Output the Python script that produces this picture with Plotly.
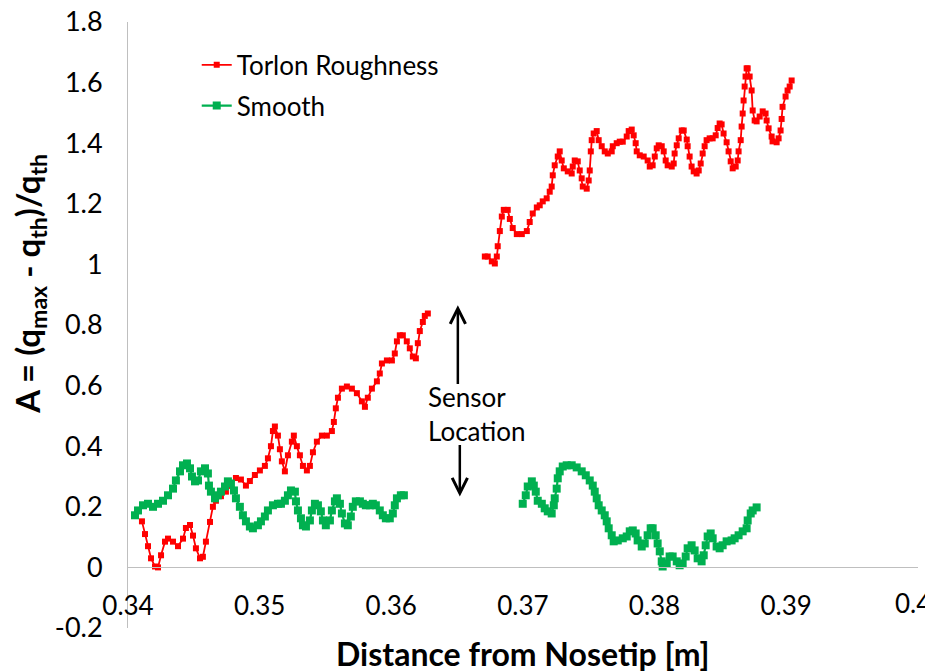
import plotly.graph_objects as go

# ---------------- data (x = distance from nosetip [m], y = A) ----------------
torlon_seg1 = [
    (0.34106, 0.152), (0.34129, 0.11), (0.34152, 0.07), (0.34175, 0.03), (0.34205, 0.003),
    (0.34228, 0.0), (0.34251, 0.04), (0.34281, 0.085), (0.34304, 0.095), (0.34342, 0.085),
    (0.3438, 0.07), (0.34418, 0.095), (0.3444, 0.13), (0.34471, 0.14), (0.34494, 0.105),
    (0.34516, 0.063), (0.34547, 0.03), (0.34569, 0.035), (0.34592, 0.085), (0.34623, 0.15),
    (0.34645, 0.2), (0.34668, 0.22), (0.34706, 0.235), (0.34744, 0.25), (0.34782, 0.27),
    (0.3482, 0.295), (0.34858, 0.29), (0.34896, 0.27), (0.34926, 0.285), (0.34964, 0.305),
    (0.35002, 0.32), (0.3504, 0.335), (0.35063, 0.36), (0.35086, 0.40), (0.35101, 0.45),
    (0.35116, 0.465), (0.35139, 0.435), (0.35154, 0.39), (0.35169, 0.35), (0.35192, 0.317),
    (0.35215, 0.37), (0.35245, 0.415), (0.3526, 0.435), (0.35283, 0.40), (0.35306, 0.37),
    (0.35329, 0.335), (0.35359, 0.32), (0.35382, 0.335), (0.35405, 0.38), (0.35435, 0.415),
    (0.35473, 0.435), (0.35511, 0.435), (0.35549, 0.45), (0.35564, 0.48), (0.35579, 0.525),
    (0.35595, 0.56), (0.35625, 0.59), (0.35663, 0.597), (0.35701, 0.59), (0.35739, 0.575),
    (0.35777, 0.548), (0.358, 0.53), (0.35822, 0.56), (0.35853, 0.59), (0.35891, 0.614),
    (0.35913, 0.64), (0.35929, 0.673), (0.35967, 0.683), (0.36005, 0.683), (0.36027, 0.706),
    (0.36043, 0.746), (0.36065, 0.766), (0.36088, 0.766), (0.36118, 0.746), (0.36141, 0.723),
    (0.36164, 0.696), (0.36187, 0.69), (0.36202, 0.74), (0.36217, 0.78), (0.3624, 0.81),
    (0.36255, 0.83), (0.36278, 0.838),
]

torlon_seg2 = [
    (0.36711, 1.026), (0.36733, 1.026), (0.36764, 1.01), (0.36787, 1.003), (0.36802, 1.026),
    (0.36809, 1.06), (0.36825, 1.11), (0.3684, 1.158), (0.36855, 1.18), (0.36885, 1.18),
    (0.36901, 1.15), (0.36923, 1.12), (0.36954, 1.10), (0.36992, 1.10), (0.3703, 1.11),
    (0.37052, 1.14), (0.37075, 1.168), (0.37106, 1.188), (0.37128, 1.195), (0.37151, 1.208),
    (0.37181, 1.218), (0.37204, 1.24), (0.37219, 1.257), (0.37227, 1.294), (0.37242, 1.327),
    (0.37265, 1.356), (0.3728, 1.373), (0.37295, 1.343), (0.37311, 1.317), (0.37341, 1.307),
    (0.37371, 1.30), (0.37379, 1.323), (0.37394, 1.343), (0.37417, 1.34), (0.37432, 1.31),
    (0.37447, 1.284), (0.37455, 1.257), (0.37485, 1.25), (0.375, 1.277), (0.37508, 1.31),
    (0.37516, 1.373), (0.37523, 1.41), (0.37538, 1.432), (0.37561, 1.44), (0.37576, 1.41),
    (0.37599, 1.39), (0.37622, 1.373), (0.37645, 1.366), (0.37675, 1.373), (0.37683, 1.39),
    (0.37713, 1.40), (0.37736, 1.405), (0.37759, 1.405), (0.37789, 1.422), (0.37804, 1.44),
    (0.37827, 1.445), (0.37842, 1.426), (0.37857, 1.40), (0.37865, 1.373), (0.37888, 1.36),
    (0.37918, 1.356), (0.37948, 1.343), (0.37964, 1.323), (0.37986, 1.327), (0.38002, 1.356),
    (0.38017, 1.383), (0.38032, 1.393), (0.38055, 1.39), (0.3807, 1.373), (0.38085, 1.343),
    (0.381, 1.327), (0.38131, 1.323), (0.38146, 1.333), (0.38153, 1.366), (0.38169, 1.393),
    (0.38184, 1.416), (0.38207, 1.442), (0.38222, 1.442), (0.38245, 1.412), (0.38252, 1.39),
    (0.38267, 1.356), (0.38282, 1.323), (0.38298, 1.307), (0.3832, 1.30), (0.38336, 1.31),
    (0.38351, 1.333), (0.38366, 1.366), (0.38381, 1.39), (0.38396, 1.41), (0.38419, 1.416),
    (0.38442, 1.416), (0.38465, 1.426), (0.3848, 1.45), (0.38495, 1.465), (0.3851, 1.462),
    (0.38525, 1.432), (0.38548, 1.403), (0.38563, 1.373), (0.38579, 1.34), (0.38594, 1.317),
    (0.38617, 1.323), (0.38632, 1.343), (0.38639, 1.373), (0.38655, 1.41), (0.38662, 1.455),
    (0.3867, 1.498), (0.38677, 1.541), (0.38685, 1.587), (0.38692, 1.62), (0.387, 1.647),
    (0.38708, 1.647), (0.38723, 1.62), (0.38738, 1.574), (0.38746, 1.508), (0.38761, 1.475),
    (0.38776, 1.472), (0.38799, 1.488), (0.38822, 1.505), (0.38844, 1.498), (0.38852, 1.475),
    (0.38867, 1.449), (0.3889, 1.422), (0.38897, 1.406), (0.38928, 1.403), (0.38943, 1.416),
    (0.38958, 1.442), (0.38966, 1.48), (0.38973, 1.52), (0.38996, 1.554), (0.39011, 1.574),
    (0.39027, 1.587), (0.39042, 1.607),
]

smooth_seg1 = [
    (0.34053, 0.172), (0.34076, 0.188), (0.34114, 0.205), (0.34152, 0.21), (0.3419, 0.20),
    (0.34228, 0.21), (0.34266, 0.22), (0.34304, 0.238), (0.34342, 0.26), (0.34364, 0.287),
    (0.34395, 0.317), (0.34418, 0.337), (0.34448, 0.343), (0.34471, 0.327), (0.34486, 0.30),
    (0.34509, 0.284), (0.34532, 0.287), (0.34554, 0.317), (0.34585, 0.327), (0.34607, 0.31),
    (0.34615, 0.27), (0.3463, 0.25), (0.34661, 0.228), (0.34683, 0.238), (0.34706, 0.25),
    (0.34737, 0.267), (0.34759, 0.284), (0.34782, 0.277), (0.34805, 0.254), (0.3482, 0.228),
    (0.3485, 0.20), (0.34873, 0.172), (0.34896, 0.152), (0.34926, 0.135), (0.34949, 0.129),
    (0.34987, 0.139), (0.3501, 0.152), (0.3504, 0.168), (0.35063, 0.188), (0.35101, 0.205),
    (0.35139, 0.21), (0.35162, 0.21), (0.35192, 0.22), (0.35215, 0.238), (0.35238, 0.254),
    (0.35268, 0.25), (0.35276, 0.218), (0.35291, 0.188), (0.35314, 0.162), (0.35329, 0.139),
    (0.35352, 0.135), (0.35382, 0.155), (0.35397, 0.188), (0.3542, 0.21), (0.35443, 0.205),
    (0.35465, 0.185), (0.35481, 0.155), (0.35503, 0.139), (0.35534, 0.155), (0.35549, 0.188),
    (0.35572, 0.218), (0.35587, 0.228), (0.3561, 0.21), (0.35625, 0.178), (0.35648, 0.145),
    (0.3567, 0.139), (0.35693, 0.168), (0.35708, 0.20), (0.35731, 0.218), (0.35762, 0.218),
    (0.35784, 0.21), (0.35807, 0.205), (0.35838, 0.205), (0.3586, 0.21), (0.35883, 0.205),
    (0.35913, 0.188), (0.35936, 0.172), (0.35959, 0.162), (0.35989, 0.162), (0.36012, 0.178),
    (0.36027, 0.205), (0.36043, 0.228), (0.36073, 0.238), (0.36096, 0.238),
]

smooth_seg2 = [
    (0.36999, 0.21), (0.37022, 0.238), (0.37037, 0.267), (0.37068, 0.284), (0.37083, 0.27),
    (0.37098, 0.25), (0.37113, 0.22), (0.37144, 0.21), (0.37166, 0.195), (0.37189, 0.185),
    (0.37219, 0.178), (0.37235, 0.205), (0.37242, 0.228), (0.37257, 0.26), (0.37265, 0.294),
    (0.3728, 0.317), (0.37303, 0.333), (0.37333, 0.337), (0.37371, 0.337), (0.37409, 0.33),
    (0.37447, 0.317), (0.37478, 0.304), (0.37508, 0.287), (0.37531, 0.27), (0.37546, 0.25),
    (0.37561, 0.228), (0.37576, 0.205), (0.37599, 0.188), (0.37622, 0.172), (0.37637, 0.152),
    (0.37652, 0.129), (0.37675, 0.106), (0.3769, 0.086), (0.37721, 0.089), (0.37759, 0.096),
    (0.37789, 0.102), (0.37812, 0.119), (0.37835, 0.122), (0.37857, 0.112), (0.37872, 0.089),
    (0.37903, 0.069), (0.37926, 0.079), (0.37948, 0.106), (0.37971, 0.129), (0.37986, 0.129),
    (0.38009, 0.106), (0.38024, 0.079), (0.3804, 0.053), (0.38055, 0.02), (0.38062, 0.003),
    (0.38093, 0.013), (0.38115, 0.036), (0.38138, 0.036), (0.38169, 0.02), (0.38191, 0.007),
    (0.38214, 0.013), (0.38237, 0.036), (0.38252, 0.063), (0.38282, 0.073), (0.38305, 0.056),
    (0.38328, 0.03), (0.38358, 0.02), (0.38374, 0.04), (0.38389, 0.073), (0.38404, 0.102),
    (0.38427, 0.112), (0.38442, 0.096), (0.38472, 0.069), (0.38495, 0.063), (0.38518, 0.073),
    (0.38548, 0.086), (0.38586, 0.089), (0.38609, 0.096), (0.38639, 0.106), (0.3867, 0.119),
    (0.387, 0.129), (0.38708, 0.155), (0.38731, 0.178), (0.38746, 0.188), (0.38776, 0.198),
]

series_names = ["Torlon Roughness", "Smooth"]
x_tick_vals = [0.34, 0.35, 0.36, 0.37, 0.38, 0.39, 0.40]
x_tick_text = ["0.34", "0.35", "0.36", "0.37", "0.38", "0.39", "0.4"]
y_tick_vals = [-0.2, 0.0, 0.2, 0.4, 0.6, 0.8, 1.0, 1.2, 1.4, 1.6, 1.8]
y_tick_text = ["-0.2", "0", "0.2", "0.4", "0.6", "0.8", "1", "1.2", "1.4", "1.6", "1.8"]


def join_segments(*segs):
    xs, ys = [], []
    for i, seg in enumerate(segs):
        if i > 0:
            xs.append(None)
            ys.append(None)
        xs.extend(p[0] for p in seg)
        ys.extend(p[1] for p in seg)
    return xs, ys


FONT = "Lato, 'Open Sans', sans-serif"
RED = "#FF0000"
GREEN = "#00B050"

fig = go.Figure()

tx, ty = join_segments(torlon_seg1, torlon_seg2)
fig.add_trace(go.Scatter(
    x=tx, y=ty, name=series_names[0], mode="lines+markers",
    line=dict(color=RED, width=1.8),
    marker=dict(symbol="square", size=6, color=RED),
    connectgaps=False, legendgroup="a",
))

sx, sy = join_segments(smooth_seg1, smooth_seg2)
fig.add_trace(go.Scatter(
    x=sx, y=sy, name=series_names[1], mode="lines+markers",
    line=dict(color=GREEN, width=2.2),
    marker=dict(symbol="square", size=8, color=GREEN),
    connectgaps=False, legendgroup="b",
))

AX_GRAY = "#BFBFBF"

# the last x tick label sits at the right edge; it is drawn right-aligned as an
# annotation (like the reference) so it is not clipped by the page edge
axis_tick_text = x_tick_text[:-1] + [""]

# the page body adds an 8 px margin, so the figure is 8 px smaller than the window
fig.update_layout(
    width=925, height=664,
    margin=dict(l=120, r=15, t=14, b=44, autoexpand=False),
    paper_bgcolor="white", plot_bgcolor="white",
    font=dict(family=FONT, size=26, color="black"),
    showlegend=True,
    legend=dict(
        x=0.087, y=0.968, xanchor="left", yanchor="top",
        bgcolor="rgba(0,0,0,0)", borderwidth=0,
        font=dict(family=FONT, size=26, color="black"),
        traceorder="grouped", tracegroupgap=4,
    ),
    xaxis=dict(
        range=[0.34, 0.40002], anchor="free", position=0.1,
        showgrid=False, zeroline=False, automargin=False,
        showline=True, linecolor=AX_GRAY, linewidth=1,
        tickmode="array", tickvals=x_tick_vals, ticktext=axis_tick_text,
        ticks="", ticklabelstandoff=15, ticklabeloverflow="allow",
        tickfont=dict(family=FONT, size=26, color="black"),
    ),
    yaxis=dict(
        range=[-0.2, 1.8], automargin=False,
        showgrid=False, zeroline=False,
        showline=True, linecolor=AX_GRAY, linewidth=1,
        tickmode="array", tickvals=y_tick_vals, ticktext=y_tick_text,
        ticks="", ticklabelstandoff=19, ticklabeloverflow="allow",
        tickfont=dict(family=FONT, size=27, color="black"),
    ),
)

fig.add_annotation(
    x=x_tick_vals[-1], y=0, xref="x", yref="y", text=x_tick_text[-1], showarrow=False,
    xanchor="right", yanchor="middle", xshift=15, yshift=-36,
    font=dict(family=FONT, size=26, color="black"),
)

# axis titles
fig.add_annotation(
    xref="paper", yref="paper", x=0.5, y=-0.042, xanchor="center", yanchor="middle",
    text="<b>Distance from Nosetip [m]</b>", showarrow=False,
    font=dict(family=FONT, size=32, color="black"),
)
fig.add_annotation(
    xref="paper", yref="paper", x=-0.124, y=0.568, xanchor="center", yanchor="middle",
    text="<b>A = (q<sub>max</sub> - q<sub>th</sub>)/q<sub>th</sub></b>", showarrow=False,
    textangle=-90,
    font=dict(family=FONT, size=33, color="black"),
)

# Sensor location label and arrows
fig.add_annotation(
    x=0.36263, y=0.564, xref="x", yref="y", text="Sensor", showarrow=False,
    xanchor="left", yanchor="middle", font=dict(family=FONT, size=26, color="black"),
)
fig.add_annotation(
    x=0.36263, y=0.449, xref="x", yref="y", text="Location", showarrow=False,
    xanchor="left", yanchor="middle", font=dict(family=FONT, size=26, color="black"),
)
fig.add_annotation(
    x=0.36506, y=0.865, ax=0.36506, ay=0.60, xref="x", yref="y", axref="x", ayref="y",
    text="", showarrow=True, arrowhead=5, arrowsize=1.2, arrowwidth=2.5, arrowcolor="black",
)
fig.add_annotation(
    x=0.36521, y=0.234, ax=0.36521, ay=0.409, xref="x", yref="y", axref="x", ayref="y",
    text="", showarrow=True, arrowhead=5, arrowsize=1.2, arrowwidth=2.5, arrowcolor="black",
)

fig.write_html("out.html")
